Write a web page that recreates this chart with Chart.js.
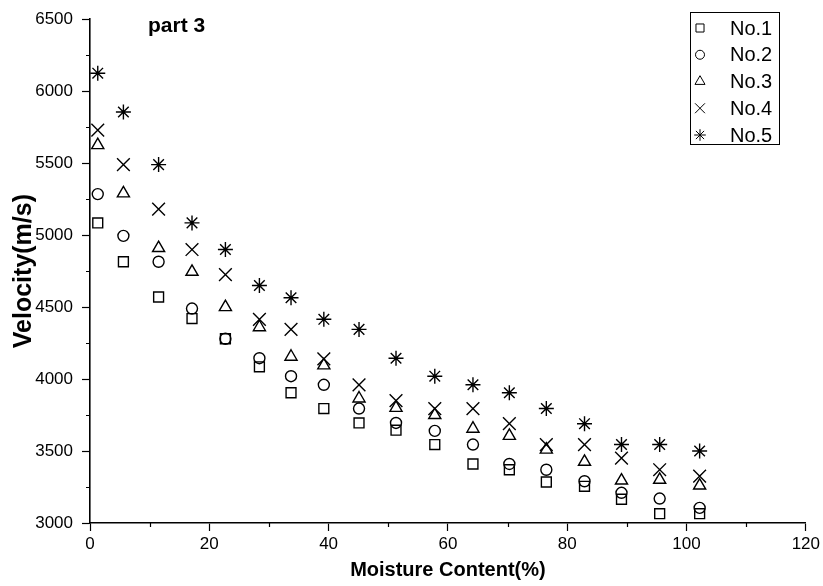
<!DOCTYPE html>
<html>
<head>
<meta charset="utf-8">
<script src="https://cdn.jsdelivr.net/npm/chart.js@4/dist/chart.umd.min.js"></script>
<style>
  html, body { margin: 0; padding: 0; background: #fff; }
  #wrap { width: 823px; height: 586px; }
</style>
</head>
<body>
<div id="wrap"><canvas id="chart" width="823" height="586"></canvas></div>
<script>
// moisture content (%) for each measurement column
const moisture = [1.3, 5.6, 11.5, 17.1, 22.7, 28.4, 33.7, 39.2, 45.1, 51.3, 57.8, 64.2, 70.3, 76.5, 82.9, 89.1, 95.5, 102.2];

// velocity (m/s) per sample
const no1 = [5085, 4815, 4570, 4420, 4280, 4085, 3905, 3795, 3695, 3645, 3545, 3410, 3370, 3285, 3255, 3165, 3065, 3065];
const no2 = [5285, 4995, 4815, 4490, 4280, 4145, 4020, 3960, 3795, 3695, 3640, 3545, 3410, 3370, 3290, 3210, 3170, 3105];
const no3 = [5625, 5290, 4910, 4745, 4500, 4360, 4155, 4095, 3865, 3800, 3750, 3655, 3605, 3510, 3425, 3295, 3300, 3260];
const no4 = [5730, 5490, 5180, 4900, 4725, 4415, 4345, 4140, 3960, 3850, 3795, 3795, 3690, 3545, 3545, 3450, 3370, 3325];
const no5 = [6125, 5855, 5490, 5085, 4900, 4650, 4565, 4415, 4345, 4145, 4020, 3960, 3905, 3795, 3690, 3545, 3545, 3500];

const labels = ["No.1", "No.2", "No.3", "No.4", "No.5"];
const styles = ["rect", "circle", "triangle", "crossRot", "star"];
const radii = [7, 5.5, 7, 9, 7.5];
const legendRadii = [5.7, 4.5, 5.8, 7, 5.8];
const series = [no1, no2, no3, no4, no5];

const sans = "'Liberation Sans', Arial, sans-serif";
const tickFont = { family: sans, size: 17 };

const datasets = series.map((vals, i) => ({
  label: labels[i],
  data: vals.map((v, j) => ({ x: moisture[j], y: v })),
  pointStyle: styles[i],
  pointRadius: radii[i],
  pointHoverRadius: radii[i],
  pointBorderWidth: 1.4,
  borderColor: "#000",
  pointBackgroundColor: "rgba(0,0,0,0)",
  backgroundColor: "rgba(0,0,0,0)",
  showLine: false
}));

// minor ticks, "part 3" label and the boxed legend
const extras = {
  id: "extras",
  afterDraw(chart) {
    const ctx = chart.ctx;
    const xs = chart.scales.x, ys = chart.scales.y;
    ctx.save();
    ctx.strokeStyle = "#000";
    ctx.lineWidth = 1.2;
    ctx.beginPath();
    for (let v = 3250; v < 6500; v += 500) {
      const py = Math.round(ys.getPixelForValue(v)) + 0.5;
      ctx.moveTo(ys.right - 4, py);
      ctx.lineTo(ys.right, py);
    }
    for (let v = 10; v < 120; v += 20) {
      const px = Math.round(xs.getPixelForValue(v)) + 0.5;
      ctx.moveTo(px, xs.top);
      ctx.lineTo(px, xs.top + 4);
    }
    ctx.stroke();

    ctx.fillStyle = "#000";
    ctx.font = "bold 21px " + sans;
    ctx.textBaseline = "alphabetic";
    ctx.textAlign = "left";
    ctx.fillText("part 3", 148, 31.5);

    ctx.lineWidth = 1;
    ctx.strokeRect(690.5, 12.5, 89, 132);
    ctx.font = "20px " + sans;
    ctx.textBaseline = "middle";
    for (let i = 0; i < labels.length; i++) {
      const y = 28 + i * 26.75;
      ctx.strokeStyle = "#000";
      ctx.fillStyle = "rgba(0,0,0,0)";
      Chart.helpers.drawPoint(ctx, {
        pointStyle: styles[i],
        radius: legendRadii[i],
        borderWidth: 1.3,
        rotation: 0
      }, 700, y);
      ctx.fillStyle = "#000";
      ctx.fillText(labels[i], 730, y + 1);
    }
    ctx.restore();
  }
};

new Chart(document.getElementById("chart"), {
  type: "scatter",
  data: { datasets },
  options: {
    responsive: false,
    animation: false,
    layout: { padding: { top: 17, right: 14, left: 0, bottom: 0 } },
    plugins: { legend: { display: false }, tooltip: { enabled: false } },
    scales: {
      x: {
        type: "linear",
        min: 0,
        max: 120,
        afterFit: s => { s.height = 63; },
        border: { display: true, color: "#000", width: 1.6 },
        grid: { drawOnChartArea: false, drawTicks: true, tickLength: 8, color: "#000", tickWidth: 1.2 },
        ticks: { stepSize: 20, color: "#000", font: tickFont, padding: 3, maxRotation: 0, autoSkip: false, callback: v => String(v) },
        title: { display: true, text: "Moisture Content(%)", color: "#000", font: { family: sans, size: 20, weight: "bold" }, padding: { top: 0, bottom: 4 } }
      },
      y: {
        type: "linear",
        min: 3000,
        max: 6500,
        afterFit: s => { s.width = 90; },
        border: { display: true, color: "#000", width: 1.6 },
        grid: { drawOnChartArea: false, drawTicks: true, tickLength: 8, color: "#000", tickWidth: 1.2 },
        ticks: { stepSize: 500, color: "#000", font: tickFont, padding: 9, autoSkip: false, callback: v => String(v) },
        title: { display: true, text: "Velocity(m/s)", color: "#000", font: { family: sans, size: 25, weight: "bold" }, padding: { top: 9, bottom: 0 } }
      }
    }
  },
  plugins: [extras]
});
</script>
</body>
</html>
